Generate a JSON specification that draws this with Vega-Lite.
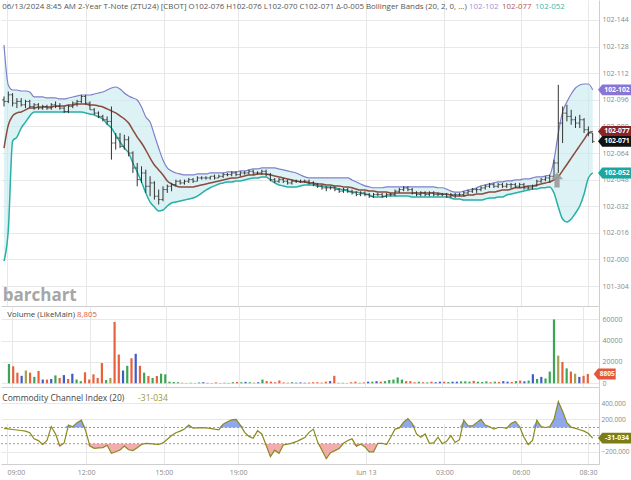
{
"$schema":"https://vega.github.io/schema/vega-lite/v6.json",
"padding":0,
"spacing":0,
"bounds":"flush",
"background":"white",
"config":{"font":"Open Sans","view":{"stroke":null},"axis":{"gridColor":"#e8e8e8","ticks":false,"domainColor":"#cfcfcf","labelColor":"#8a8a8a","labelFontSize":7,"labelFont":"Open Sans","labelOverlap":false}},
"resolve":{"scale":{"color":"independent"}},
"datasets":{"bars":[
{"k":0,"o":96,"h":98,"l":92,"c":95,"u":129,"m":67,"b":-1,"v":18000,"vc":"g","cci":90},
{"k":1,"o":95,"h":101,"l":94,"c":99,"u":104.9,"m":80.8,"b":17.7,"v":16000,"vc":"r","cci":82},
{"k":2,"o":99,"h":100,"l":92,"c":94,"u":101.9,"m":86.3,"b":71.2,"v":10000,"vc":"r","cci":75},
{"k":3,"o":94,"h":97,"l":91,"c":95,"u":101.9,"m":88.1,"b":73.6,"v":7000,"vc":"b","cci":69},
{"k":4,"o":95,"h":97,"l":92,"c":93,"u":101.3,"m":88.7,"b":79,"v":12000,"vc":"o","cci":63},
{"k":5,"o":93,"h":96,"l":91,"c":95,"u":101.3,"m":89.9,"b":82.6,"v":10000,"vc":"r","cci":55},
{"k":6,"o":95,"h":96,"l":91,"c":92,"u":100.7,"m":91.1,"b":86.3,"v":6000,"vc":"g","cci":35},
{"k":7,"o":92,"h":94,"l":90,"c":93,"u":97.7,"m":91.1,"b":88.7,"v":11600,"vc":"r","cci":-40},
{"k":8,"o":93,"h":94,"l":90,"c":91,"u":97.7,"m":91.7,"b":88.7,"v":3500,"vc":"b","cci":-62},
{"k":9,"o":91,"h":93,"l":90,"c":92,"u":97.7,"m":91.7,"b":88.7,"v":3500,"vc":"r","cci":-110},
{"k":10,"o":92,"h":93,"l":90,"c":91,"u":97.1,"m":91.7,"b":88.7,"v":4000,"vc":"b","cci":-60},
{"k":11,"o":91,"h":94,"l":90,"c":93,"u":97.1,"m":91.7,"b":88.7,"v":7400,"vc":"g","cci":110},
{"k":12,"o":93,"h":95,"l":91,"c":92,"u":97.1,"m":92.3,"b":88.7,"v":5000,"vc":"r","cci":20},
{"k":13,"o":92,"h":94,"l":90,"c":91,"u":96.5,"m":92.3,"b":88.7,"v":7700,"vc":"b","cci":-130},
{"k":14,"o":91,"h":92,"l":88,"c":89,"u":96.5,"m":92.3,"b":88.7,"v":4000,"vc":"r","cci":-90},
{"k":15,"o":89,"h":93,"l":88,"c":92,"u":97.1,"m":92.9,"b":88.7,"v":9000,"vc":"b","cci":130},
{"k":16,"o":92,"h":95,"l":91,"c":94,"u":97.7,"m":92.9,"b":88.7,"v":3500,"vc":"g","cci":110},
{"k":17,"o":94,"h":96,"l":92,"c":95,"u":98.3,"m":93.5,"b":88.7,"v":2000,"vc":"g","cci":160},
{"k":18,"o":95,"h":99,"l":94,"c":98,"u":98.9,"m":93.5,"b":88.7,"v":10300,"vc":"r","cci":190},
{"k":19,"o":98,"h":99,"l":93,"c":94,"u":98.9,"m":93.5,"b":88.1,"v":3500,"vc":"r","cci":60},
{"k":20,"o":94,"h":95,"l":90,"c":90,"u":98.9,"m":92.9,"b":87.5,"v":8400,"vc":"r","cci":-130},
{"k":21,"o":90,"h":91,"l":87,"c":88,"u":99.5,"m":92.9,"b":86.9,"v":5000,"vc":"r","cci":-157},
{"k":22,"o":88,"h":89,"l":85,"c":86,"u":100.1,"m":92.3,"b":85.7,"v":19000,"vc":"r","cci":-152},
{"k":23,"o":86,"h":87,"l":83,"c":84,"u":100.7,"m":91.7,"b":84.5,"v":3000,"vc":"g","cci":-148},
{"k":24,"o":84,"h":86,"l":81,"c":83,"u":101.9,"m":90.5,"b":81.4,"v":5000,"vc":"o","cci":-120},
{"k":25,"o":83,"h":92,"l":60,"c":70,"u":103.1,"m":89.3,"b":79,"v":57600,"vc":"r","cci":-219},
{"k":26,"o":70,"h":76,"l":66,"c":73,"u":103.7,"m":88.1,"b":74.8,"v":27000,"vc":"r","cci":-200},
{"k":27,"o":73,"h":76,"l":67,"c":68,"u":102.5,"m":86.3,"b":70.6,"v":12000,"vc":"b","cci":-178},
{"k":28,"o":68,"h":75,"l":66,"c":72,"u":100.1,"m":84.5,"b":67,"v":16400,"vc":"g","cci":-130},
{"k":29,"o":72,"h":74,"l":62,"c":64,"u":98.3,"m":82,"b":64,"v":23500,"vc":"r","cci":-175},
{"k":30,"o":64,"h":65,"l":52,"c":55,"u":97.1,"m":77.8,"b":58,"v":27700,"vc":"b","cci":-185},
{"k":31,"o":55,"h":58,"l":44,"c":48,"u":95.9,"m":73.6,"b":52.6,"v":16400,"vc":"r","cci":-150},
{"k":32,"o":48,"h":56,"l":46,"c":52,"u":91.7,"m":70,"b":46.6,"v":10000,"vc":"g","cci":-110},
{"k":33,"o":52,"h":54,"l":40,"c":44,"u":85.7,"m":65.8,"b":39.9,"v":6800,"vc":"r","cci":-96},
{"k":34,"o":44,"h":50,"l":38,"c":46,"u":82.6,"m":61,"b":34.5,"v":5000,"vc":"g","cci":-100},
{"k":35,"o":46,"h":47,"l":36,"c":38,"u":74.8,"m":56.8,"b":31.5,"v":6800,"vc":"r","cci":-105},
{"k":36,"o":38,"h":42,"l":33,"c":36,"u":67,"m":53.8,"b":29.1,"v":9000,"vc":"g","cci":-110},
{"k":37,"o":36,"h":44,"l":35,"c":42,"u":59.8,"m":50.8,"b":29.7,"v":8400,"vc":"g","cci":-90},
{"k":38,"o":42,"h":45,"l":40,"c":44,"u":55,"m":47.2,"b":32.1,"v":1500,"vc":"g","cci":-45},
{"k":39,"o":44,"h":46,"l":41,"c":45,"u":53.2,"m":45.4,"b":33.9,"v":1200,"vc":"g","cci":0},
{"k":40,"o":45,"h":48,"l":44,"c":47,"u":52,"m":44.2,"b":34.5,"v":1000,"vc":"g","cci":35},
{"k":41,"o":47,"h":48,"l":45,"c":46,"u":51.4,"m":43.6,"b":35.1,"v":500,"vc":"r","cci":55},
{"k":42,"o":46,"h":48,"l":45,"c":47,"u":50.8,"m":43.6,"b":35.7,"v":300,"vc":"g","cci":80},
{"k":43,"o":47,"h":49,"l":46,"c":48,"u":50.8,"m":43.6,"b":36.3,"v":500,"vc":"g","cci":130},
{"k":44,"o":48,"h":49,"l":46,"c":47,"u":50.8,"m":43.6,"b":36.9,"v":300,"vc":"r","cci":92},
{"k":45,"o":47,"h":50,"l":47,"c":49,"u":51.4,"m":44.2,"b":38.1,"v":800,"vc":"g","cci":95},
{"k":46,"o":49,"h":50,"l":48,"c":49,"u":51.4,"m":44.8,"b":39.9,"v":1000,"vc":"b","cci":98},
{"k":47,"o":49,"h":50,"l":48,"c":49,"u":51.4,"m":45.4,"b":41.7,"v":400,"vc":"b","cci":96},
{"k":48,"o":49,"h":50,"l":48,"c":50,"u":52,"m":46,"b":43.1,"v":300,"vc":"g","cci":90},
{"k":49,"o":50,"h":51,"l":48,"c":49,"u":52,"m":46.6,"b":44.2,"v":800,"vc":"r","cci":80},
{"k":50,"o":49,"h":51,"l":49,"c":50,"u":52,"m":47.2,"b":45.4,"v":300,"vc":"g","cci":72},
{"k":51,"o":50,"h":52,"l":49,"c":51,"u":52,"m":47.8,"b":46,"v":500,"vc":"g","cci":140},
{"k":52,"o":51,"h":52,"l":50,"c":51,"u":52.6,"m":48.4,"b":46.6,"v":300,"vc":"b","cci":170},
{"k":53,"o":51,"h":53,"l":50,"c":52,"u":52.6,"m":49,"b":46.6,"v":1000,"vc":"g","cci":195},
{"k":54,"o":52,"h":53,"l":50,"c":51,"u":52.6,"m":49,"b":47.2,"v":1200,"vc":"r","cci":200},
{"k":55,"o":51,"h":53,"l":50,"c":52,"u":53.2,"m":49.6,"b":47.2,"v":1000,"vc":"g","cci":130},
{"k":56,"o":52,"h":53,"l":51,"c":52,"u":53.2,"m":50.2,"b":47.8,"v":1300,"vc":"b","cci":40},
{"k":57,"o":52,"h":54,"l":51,"c":53,"u":53.8,"m":50.8,"b":48.4,"v":1000,"vc":"g","cci":-10},
{"k":58,"o":53,"h":54,"l":51,"c":52,"u":54.4,"m":50.8,"b":49,"v":500,"vc":"r","cci":-33},
{"k":59,"o":52,"h":53,"l":51,"c":52,"u":54.4,"m":51.4,"b":49,"v":1000,"vc":"b","cci":60},
{"k":60,"o":52,"h":54,"l":51,"c":53,"u":55,"m":51.4,"b":49.6,"v":3500,"vc":"g","cci":20},
{"k":61,"o":53,"h":54,"l":50,"c":51,"u":55,"m":51.4,"b":49.6,"v":2000,"vc":"r","cci":-120},
{"k":62,"o":51,"h":52,"l":47,"c":48,"u":55,"m":50.8,"b":47.8,"v":1500,"vc":"r","cci":-260},
{"k":63,"o":48,"h":49,"l":46,"c":47,"u":55,"m":50.2,"b":46,"v":1000,"vc":"r","cci":-180},
{"k":64,"o":47,"h":49,"l":46,"c":48,"u":54.4,"m":49.6,"b":44.8,"v":2600,"vc":"r","cci":-219},
{"k":65,"o":48,"h":49,"l":46,"c":47,"u":53.8,"m":49,"b":44.2,"v":800,"vc":"r","cci":-116},
{"k":66,"o":47,"h":48,"l":45,"c":46,"u":53.2,"m":48.4,"b":43.6,"v":500,"vc":"r","cci":-105},
{"k":67,"o":46,"h":48,"l":45,"c":47,"u":52.6,"m":47.8,"b":43.6,"v":1000,"vc":"g","cci":-92},
{"k":68,"o":47,"h":48,"l":46,"c":47,"u":52,"m":47.2,"b":43.6,"v":600,"vc":"b","cci":-75},
{"k":69,"o":47,"h":48,"l":46,"c":47,"u":50.8,"m":46.6,"b":44.2,"v":800,"vc":"b","cci":-50},
{"k":70,"o":47,"h":48,"l":46,"c":47,"u":49.6,"m":46.6,"b":44.8,"v":500,"vc":"b","cci":-25},
{"k":71,"o":47,"h":48,"l":45,"c":46,"u":49,"m":46,"b":44.8,"v":700,"vc":"r","cci":40},
{"k":72,"o":46,"h":47,"l":44,"c":45,"u":49,"m":46,"b":44.8,"v":1000,"vc":"r","cci":80},
{"k":73,"o":45,"h":46,"l":43,"c":44,"u":49,"m":45.4,"b":44.2,"v":1000,"vc":"r","cci":-80},
{"k":74,"o":44,"h":45,"l":42,"c":43,"u":49,"m":45.4,"b":44.2,"v":600,"vc":"r","cci":-180},
{"k":75,"o":43,"h":44,"l":41,"c":43,"u":49,"m":44.8,"b":43.6,"v":1500,"vc":"r","cci":-285},
{"k":76,"o":43,"h":44,"l":42,"c":43,"u":49,"m":44.8,"b":43.6,"v":2000,"vc":"b","cci":-210},
{"k":77,"o":43,"h":44,"l":41,"c":42,"u":49,"m":44.2,"b":43.1,"v":7000,"vc":"r","cci":-185},
{"k":78,"o":42,"h":43,"l":40,"c":41,"u":49,"m":44.2,"b":42.3,"v":500,"vc":"r","cci":-160},
{"k":79,"o":41,"h":43,"l":40,"c":42,"u":49,"m":43.6,"b":41.7,"v":500,"vc":"g","cci":-95},
{"k":80,"o":42,"h":43,"l":40,"c":41,"u":49,"m":43.6,"b":41.1,"v":300,"vc":"r","cci":-60},
{"k":81,"o":41,"h":42,"l":39,"c":40,"u":47.8,"m":43.1,"b":40.5,"v":1000,"vc":"r","cci":-40},
{"k":82,"o":40,"h":41,"l":38,"c":39,"u":46.6,"m":42.3,"b":40.5,"v":1500,"vc":"r","cci":-130},
{"k":83,"o":39,"h":41,"l":38,"c":40,"u":45.4,"m":41.7,"b":39.9,"v":500,"vc":"g","cci":-105},
{"k":84,"o":40,"h":41,"l":38,"c":39,"u":44.2,"m":41.7,"b":39.3,"v":800,"vc":"r","cci":-140},
{"k":85,"o":39,"h":40,"l":37,"c":38,"u":43.6,"m":41.1,"b":38.7,"v":1500,"vc":"b","cci":-200},
{"k":86,"o":38,"h":40,"l":37,"c":39,"u":43.1,"m":41.1,"b":37.5,"v":1500,"vc":"g","cci":-200},
{"k":87,"o":39,"h":40,"l":38,"c":39,"u":43.1,"m":40.5,"b":37.5,"v":2000,"vc":"b","cci":-95},
{"k":88,"o":39,"h":40,"l":37,"c":38,"u":43.1,"m":40.5,"b":37.5,"v":1500,"vc":"r","cci":-95},
{"k":89,"o":38,"h":40,"l":37,"c":39,"u":43.6,"m":40.5,"b":38.1,"v":2000,"vc":"g","cci":-110},
{"k":90,"o":39,"h":40,"l":38,"c":39,"u":43.6,"m":39.9,"b":38.1,"v":3000,"vc":"g","cci":-20},
{"k":91,"o":39,"h":42,"l":38,"c":41,"u":43.6,"m":39.9,"b":38.1,"v":3500,"vc":"g","cci":80},
{"k":92,"o":41,"h":43,"l":40,"c":42,"u":43.6,"m":39.9,"b":38.1,"v":5500,"vc":"g","cci":95},
{"k":93,"o":42,"h":44,"l":41,"c":43,"u":43.6,"m":39.9,"b":38.1,"v":3500,"vc":"g","cci":165},
{"k":94,"o":43,"h":44,"l":41,"c":42,"u":43.6,"m":39.9,"b":38.1,"v":2000,"vc":"r","cci":210},
{"k":95,"o":42,"h":43,"l":39,"c":40,"u":43.6,"m":39.9,"b":37.5,"v":2000,"vc":"r","cci":150},
{"k":96,"o":40,"h":41,"l":38,"c":39,"u":43.6,"m":39.9,"b":37.5,"v":1000,"vc":"r","cci":20},
{"k":97,"o":39,"h":41,"l":38,"c":40,"u":43.6,"m":39.9,"b":37.5,"v":1500,"vc":"g","cci":-20},
{"k":98,"o":40,"h":41,"l":38,"c":39,"u":43.6,"m":39.9,"b":37.5,"v":1000,"vc":"r","cci":20},
{"k":99,"o":39,"h":41,"l":38,"c":40,"u":43.6,"m":39.9,"b":37.5,"v":800,"vc":"g","cci":-95},
{"k":100,"o":40,"h":41,"l":38,"c":39,"u":43.6,"m":39.9,"b":37.5,"v":1500,"vc":"r","cci":-90},
{"k":101,"o":39,"h":40,"l":38,"c":39,"u":43.1,"m":39.9,"b":37.5,"v":1000,"vc":"b","cci":-20},
{"k":102,"o":39,"h":40,"l":38,"c":39,"u":43.1,"m":39.3,"b":37.5,"v":1500,"vc":"b","cci":-100},
{"k":103,"o":39,"h":40,"l":37,"c":38,"u":42.3,"m":39.3,"b":37.5,"v":1500,"vc":"r","cci":-70},
{"k":104,"o":38,"h":40,"l":37,"c":39,"u":41.1,"m":38.7,"b":36.9,"v":1200,"vc":"g","cci":0},
{"k":105,"o":39,"h":40,"l":37,"c":39,"u":40.5,"m":38.1,"b":36.3,"v":1500,"vc":"b","cci":-85},
{"k":106,"o":39,"h":40,"l":38,"c":39,"u":40.5,"m":38.1,"b":36.3,"v":1500,"vc":"b","cci":-50},
{"k":107,"o":39,"h":41,"l":38,"c":40,"u":41.1,"m":38.1,"b":35.7,"v":1800,"vc":"g","cci":190},
{"k":108,"o":40,"h":42,"l":39,"c":41,"u":41.7,"m":38.7,"b":35.7,"v":1800,"vc":"g","cci":120},
{"k":109,"o":41,"h":43,"l":40,"c":42,"u":42.3,"m":38.7,"b":35.7,"v":1500,"vc":"g","cci":120},
{"k":110,"o":42,"h":43,"l":40,"c":42,"u":43.1,"m":39.3,"b":35.7,"v":2300,"vc":"r","cci":160},
{"k":111,"o":42,"h":44,"l":41,"c":43,"u":44.2,"m":39.3,"b":35.7,"v":1500,"vc":"g","cci":200},
{"k":112,"o":43,"h":45,"l":42,"c":44,"u":44.8,"m":39.9,"b":36.3,"v":1200,"vc":"g","cci":130},
{"k":113,"o":44,"h":46,"l":43,"c":45,"u":45.4,"m":40.5,"b":36.9,"v":1800,"vc":"g","cci":110},
{"k":114,"o":45,"h":46,"l":43,"c":44,"u":46,"m":40.5,"b":36.9,"v":1000,"vc":"r","cci":80},
{"k":115,"o":44,"h":46,"l":43,"c":45,"u":46.6,"m":41.1,"b":37.5,"v":1500,"vc":"g","cci":100},
{"k":116,"o":45,"h":46,"l":43,"c":44,"u":46.6,"m":41.7,"b":37.5,"v":1200,"vc":"r","cci":100},
{"k":117,"o":44,"h":46,"l":43,"c":45,"u":47.2,"m":41.7,"b":38.7,"v":2000,"vc":"b","cci":90},
{"k":118,"o":45,"h":46,"l":43,"c":45,"u":47.2,"m":42.3,"b":39.3,"v":1500,"vc":"b","cci":150},
{"k":119,"o":45,"h":46,"l":43,"c":44,"u":47.8,"m":43.1,"b":39.9,"v":1200,"vc":"r","cci":175},
{"k":120,"o":44,"h":46,"l":43,"c":45,"u":47.8,"m":43.1,"b":40.5,"v":2000,"vc":"g","cci":110},
{"k":121,"o":45,"h":46,"l":42,"c":43,"u":48.4,"m":43.6,"b":41.1,"v":2500,"vc":"r","cci":-20},
{"k":122,"o":43,"h":44,"l":42,"c":43,"u":48.4,"m":44.2,"b":41.7,"v":1800,"vc":"b","cci":-110},
{"k":123,"o":43,"h":45,"l":42,"c":44,"u":49,"m":44.2,"b":42.3,"v":2500,"vc":"g","cci":-60},
{"k":124,"o":44,"h":48,"l":44,"c":47,"u":49.6,"m":44.8,"b":42.3,"v":8500,"vc":"b","cci":190},
{"k":125,"o":47,"h":49,"l":46,"c":48,"u":49.6,"m":45.4,"b":43.1,"v":4000,"vc":"g","cci":110},
{"k":126,"o":48,"h":50,"l":47,"c":49,"u":50.2,"m":46,"b":43.1,"v":6000,"vc":"b","cci":100},
{"k":127,"o":49,"h":51,"l":46,"c":50,"u":50.8,"m":46.6,"b":43.6,"v":4500,"vc":"g","cci":110},
{"k":128,"o":50,"h":60,"l":49,"c":58,"u":59.8,"m":47.8,"b":39.9,"v":11000,"vc":"g","cci":200},
{"k":129,"o":58,"h":105,"l":52,"c":82,"u":76,"m":49.6,"b":31.5,"v":60000,"vc":"g","cci":420},
{"k":130,"o":82,"h":92,"l":70,"c":88,"u":88.7,"m":53.4,"b":24.3,"v":26000,"vc":"o","cci":300},
{"k":131,"o":88,"h":93,"l":83,"c":86,"u":94.7,"m":57.1,"b":22.5,"v":20000,"vc":"r","cci":160},
{"k":132,"o":86,"h":90,"l":81,"c":84,"u":99.5,"m":60.9,"b":24.3,"v":14000,"vc":"g","cci":105},
{"k":133,"o":84,"h":86,"l":79,"c":82,"u":103.1,"m":64.7,"b":27.9,"v":11000,"vc":"r","cci":90},
{"k":134,"o":82,"h":87,"l":79,"c":84,"u":104.9,"m":68.4,"b":32.1,"v":9000,"vc":"o","cci":72},
{"k":135,"o":84,"h":85,"l":76,"c":78,"u":105.5,"m":72.2,"b":39.3,"v":6000,"vc":"b","cci":55},
{"k":136,"o":78,"h":80,"l":74,"c":76,"u":105.5,"m":76,"b":49,"v":7000,"vc":"r","cci":25},
{"k":137,"o":76,"h":76,"l":70,"c":71,"u":102,"m":77,"b":52,"v":8805,"vc":"r","cci":-31.034}
]},
"vconcat":[
{
"width":598,"height":306,
"data":{"name":"bars"},
"encoding":{"x":{"field":"k","type":"quantitative","scale":{"domain":[-0.7,138.47],"nice":false,"zero":false},"axis":{"values":[0.7,19.1,37.2,54.5,84.2,102.5,120.3,135.9],"tickCount":30,"labels":false,"grid":true,"title":null}}},
"layer":[
{"mark":{"type":"area","color":"#c4eaee","opacity":0.6,"interpolate":"monotone"},
 "encoding":{"y":{"field":"u","type":"quantitative","scale":{"domain":[-28.03,156.03],"nice":false,"zero":false},"axis":{"orient":"right","values":[-16,0,16,32,48,64,80,96,112,128,144],"tickCount":30,"labelExpr":"datum.value < 0 ? '101-' + format(320 + datum.value, '03d') : '102-' + format(datum.value, '03d')","labelOverlap":false,"grid":true,"title":null,"labelPadding":3}},"y2":{"field":"b"}}},
{"mark":{"type":"line","color":"#7f80c9","strokeWidth":1.2,"interpolate":"monotone"},"encoding":{"y":{"field":"u","type":"quantitative"}}},
{"mark":{"type":"line","color":"#26b0a6","strokeWidth":1.5,"interpolate":"monotone"},"encoding":{"y":{"field":"b","type":"quantitative"}}},
{"mark":{"type":"line","color":"#8b4a3c","strokeWidth":1.5,"interpolate":"monotone"},"encoding":{"y":{"field":"m","type":"quantitative"}}},
{"mark":{"type":"rule","color":"#333333","strokeWidth":1},"encoding":{"y":{"field":"l","type":"quantitative"},"y2":{"field":"h"}}},
{"mark":{"type":"tick","orient":"horizontal","size":2,"thickness":1,"xOffset":-1,"color":"#333333"},"encoding":{"y":{"field":"o","type":"quantitative"}}},
{"mark":{"type":"tick","orient":"horizontal","size":2,"thickness":1,"xOffset":1,"color":"#333333"},"encoding":{"y":{"field":"c","type":"quantitative"}}},
{"transform":[{"filter":"datum.k == 137"}],
 "layer":[
 {"mark":{"type":"point","shape":"M0,-1L0.8,-0.1L0.35,-0.1L0.35,1L-0.35,1L-0.35,-0.1L-0.8,-0.1Z","size":225,"filled":true,"color":"#9a9a9a","opacity":0.9},
  "encoding":{"x":{"datum":128.7,"type":"quantitative"},"y":{"datum":47.8,"type":"quantitative"}}},
 {"mark":{"type":"text","align":"left","baseline":"middle","fontSize":7.9,"color":"#555555"},
  "encoding":{"x":{"datum":-0.4,"type":"quantitative"},"y":{"datum":151.8,"type":"quantitative"},"text":{"value":"06/13/2024 8:45 AM 2-Year T-Note (ZTU24) [CBOT] O102-076 H102-076 L102-070 C102-071 Δ-0-005 Bollinger Bands  (20, 2, 0, ...)"}}},
 {"mark":{"type":"text","align":"left","baseline":"middle","fontSize":7.9,"color":"#9d94d8"},
  "encoding":{"x":{"datum":108.2,"type":"quantitative"},"y":{"datum":151.8,"type":"quantitative"},"text":{"value":"102-102"}}},
 {"mark":{"type":"text","align":"left","baseline":"middle","fontSize":7.9,"color":"#b0584f"},
  "encoding":{"x":{"datum":115.9,"type":"quantitative"},"y":{"datum":151.8,"type":"quantitative"},"text":{"value":"102-077"}}},
 {"mark":{"type":"text","align":"left","baseline":"middle","fontSize":7.9,"color":"#3bb6ae"},
  "encoding":{"x":{"datum":123.6,"type":"quantitative"},"y":{"datum":151.8,"type":"quantitative"},"text":{"value":"102-052"}}},
 {"mark":{"type":"text","align":"left","baseline":"middle","fontSize":17,"fontWeight":"bold","color":"#a6a6a6"},
  "encoding":{"x":{"datum":-0.3,"type":"quantitative"},"y":{"datum":-22,"type":"quantitative"},"text":{"value":"barchart"}}},
 {"mark":{"type":"point","shape":"M-1,0L-0.75,-0.32L1,-0.32L1,0.32L-0.75,0.32Z","size":1156,"filled":true,"opacity":1,"color":"#8a74d4"},
  "encoding":{"x":{"datum":142.19,"type":"quantitative"},"y":{"datum":102,"type":"quantitative"}}},
 {"mark":{"type":"point","shape":"M-1,0L-0.75,-0.32L1,-0.32L1,0.32L-0.75,0.32Z","size":1156,"filled":true,"opacity":1,"color":"#8b2424"},
  "encoding":{"x":{"datum":142.19,"type":"quantitative"},"y":{"datum":77,"type":"quantitative"}}},
 {"mark":{"type":"point","shape":"M-1,0L-0.75,-0.32L1,-0.32L1,0.32L-0.75,0.32Z","size":1156,"filled":true,"opacity":1,"color":"#111111"},
  "encoding":{"x":{"datum":142.19,"type":"quantitative"},"y":{"datum":71,"type":"quantitative"}}},
 {"mark":{"type":"point","shape":"M-1,0L-0.75,-0.32L1,-0.32L1,0.32L-0.75,0.32Z","size":1156,"filled":true,"opacity":1,"color":"#19a79f"},
  "encoding":{"x":{"datum":142.19,"type":"quantitative"},"y":{"datum":52,"type":"quantitative"}}},
 {"mark":{"type":"text","color":"white","fontWeight":"bold","fontSize":6.8,"baseline":"middle"},
  "encoding":{"x":{"datum":142.66,"type":"quantitative"},"y":{"datum":102,"type":"quantitative"},"text":{"value":"102-102"}}},
 {"mark":{"type":"text","color":"white","fontWeight":"bold","fontSize":6.8,"baseline":"middle"},
  "encoding":{"x":{"datum":142.66,"type":"quantitative"},"y":{"datum":77,"type":"quantitative"},"text":{"value":"102-077"}}},
 {"mark":{"type":"text","color":"white","fontWeight":"bold","fontSize":6.8,"baseline":"middle"},
  "encoding":{"x":{"datum":142.66,"type":"quantitative"},"y":{"datum":71,"type":"quantitative"},"text":{"value":"102-071"}}},
 {"mark":{"type":"text","color":"white","fontWeight":"bold","fontSize":6.8,"baseline":"middle"},
  "encoding":{"x":{"datum":142.66,"type":"quantitative"},"y":{"datum":52,"type":"quantitative"},"text":{"value":"102-052"}}}
 ]}
]
},
{
"width":598,"height":81,
"data":{"name":"bars"},
"encoding":{"x":{"field":"k","type":"quantitative","scale":{"domain":[-0.7,138.47],"nice":false,"zero":false},"axis":{"values":[0.7,19.1,37.2,54.5,84.2,102.5,120.3,135.9],"tickCount":30,"labels":false,"grid":true,"title":null}}},
"layer":[
{"mark":{"type":"bar","width":2.2},
 "encoding":{"y":{"field":"v","type":"quantitative","scale":{"domain":[-3500,72600],"nice":false,"zero":false},"axis":{"orient":"right","values":[0,20000,40000,60000],"tickCount":30,"labelExpr":"format(datum.value, 'd')","labelOverlap":false,"grid":true,"title":null,"labelPadding":3}},
  "color":{"field":"vc","type":"nominal","scale":{"domain":["g","r","b","o"],"range":["#3aa655","#e8603c","#3f5bc8","#a8a04c"]},"legend":null}}},
{"transform":[{"filter":"datum.k == 137"}],
 "layer":[
 {"mark":{"type":"text","align":"left","baseline":"middle","fontSize":7.9,"color":"#444444"},
  "encoding":{"x":{"datum":-0.4,"type":"quantitative"},"y":{"datum":63700,"type":"quantitative"},"text":{"value":"Volume (LikeMain)"}}},
 {"mark":{"type":"text","align":"left","baseline":"middle","fontSize":7.9,"color":"#e05a3a"},
  "encoding":{"x":{"datum":16.1,"type":"quantitative"},"y":{"datum":63700,"type":"quantitative"},"text":{"value":"8,805"}}},
 {"mark":{"type":"point","shape":"M-1,0L-0.6,-0.5L1,-0.5L1,0.5L-0.6,0.5Z","size":484,"filled":true,"opacity":1,"color":"#e4573d"},
  "encoding":{"x":{"datum":141.0,"type":"quantitative"},"y":{"datum":8805,"type":"quantitative"}}},
 {"mark":{"type":"text","color":"white","fontWeight":"bold","fontSize":6.5,"baseline":"middle"},
  "encoding":{"x":{"datum":141.6,"type":"quantitative"},"y":{"datum":8805,"type":"quantitative"},"text":{"value":"8805"}}}
 ]}
]
},
{
"width":598,"height":77,
"data":{"name":"bars"},
"encoding":{"x":{"field":"k","type":"quantitative","scale":{"domain":[-0.7,138.47],"nice":false,"zero":false},"axis":{"values":[0.7,19.1,37.2,54.5,84.2,102.5,120.3,135.9],"tickCount":30,"labelExpr":"datum.value < 10 ? '09:00' : datum.value < 30 ? '12:00' : datum.value < 45 ? '15:00' : datum.value < 70 ? '19:00' : datum.value < 90 ? 'Jun 13' : datum.value < 110 ? '03:00' : datum.value < 128 ? '06:00' : '08:30'","labelFlush":8,"labelOverlap":false,"labelPadding":4,"grid":true,"title":null}}},
"layer":[
{"mark":{"type":"area","color":"#6d8be6","opacity":0.75},
 "encoding":{"y":{"field":"cci","type":"quantitative","scale":{"domain":[100,600],"range":[40.5,0],"clamp":true,"nice":false,"zero":false},"axis":null},"y2":{"datum":100}}},
{"mark":{"type":"area","color":"#f08a8a","opacity":0.7},
 "encoding":{"y":{"field":"cci","type":"quantitative","scale":{"domain":[-350.6,-100],"range":[77,56.7],"clamp":true,"nice":false,"zero":false},"axis":null},"y2":{"datum":-100}}},
{"layer":[
 {"data":{"values":[{"lvl":100},{"lvl":0},{"lvl":-100}]},
  "mark":{"type":"rule","color":"#9a9a9a","strokeDash":[2,2],"strokeWidth":1},
  "encoding":{"x":null,"y":{"field":"lvl","type":"quantitative","scale":{"domain":[-350.6,600],"nice":false,"zero":false},"axis":{"orient":"right","values":[-200,200,400],"tickCount":30,"labelExpr":"format(datum.value, '.3f')","labelOverlap":false,"labelFontSize":6.6,"grid":true,"title":null,"labelPadding":2}}}},
 {"mark":{"type":"line","color":"#8a8a1e","strokeWidth":1.2},"encoding":{"y":{"field":"cci","type":"quantitative"}}},
 {"transform":[{"filter":"datum.k == 137"}],
  "layer":[
  {"mark":{"type":"text","align":"left","baseline":"middle","fontSize":8.5,"color":"#444444"},
   "encoding":{"x":{"datum":-0.4,"type":"quantitative"},"y":{"datum":470,"type":"quantitative"},"text":{"value":"Commodity Channel Index  (20)"}}},
  {"mark":{"type":"text","align":"left","baseline":"middle","fontSize":8.5,"color":"#9c9c2e"},
   "encoding":{"x":{"datum":31.2,"type":"quantitative"},"y":{"datum":470,"type":"quantitative"},"text":{"value":"-31-034"}}},
  {"mark":{"type":"point","shape":"M-1,0L-0.75,-0.32L1,-0.32L1,0.32L-0.75,0.32Z","size":1156,"filled":true,"opacity":1,"color":"#7d7d18"},
   "encoding":{"x":{"datum":142.19,"type":"quantitative"},"y":{"datum":-31.034,"type":"quantitative"}}},
  {"mark":{"type":"text","color":"white","fontWeight":"bold","fontSize":6.8,"baseline":"middle"},
   "encoding":{"x":{"datum":142.66,"type":"quantitative"},"y":{"datum":-31.034,"type":"quantitative"},"text":{"value":"-31-034"}}}
  ]}
]}
],
"resolve":{"scale":{"y":"independent"}}
}
]
}
